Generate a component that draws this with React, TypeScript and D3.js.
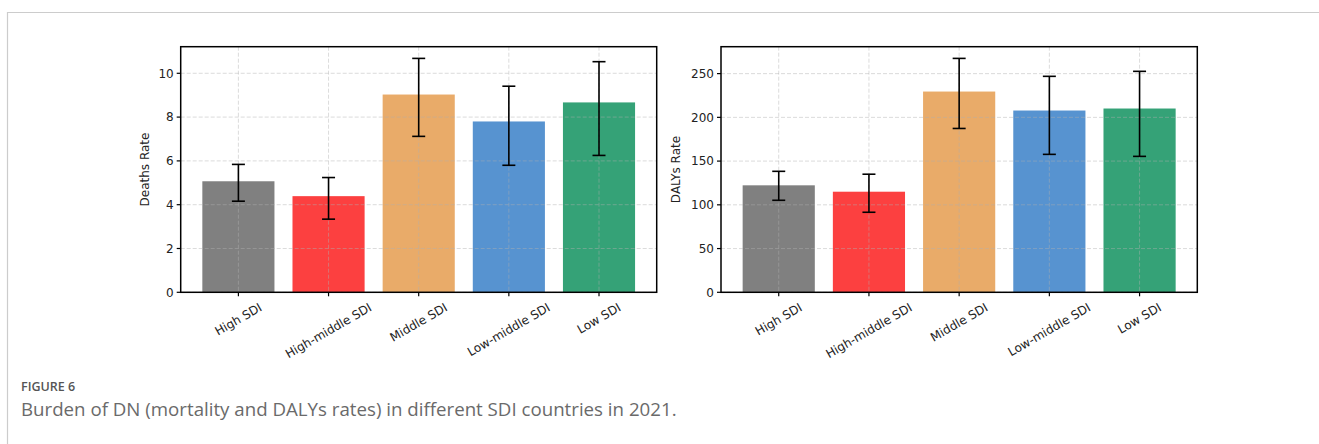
import React, { useEffect, useRef } from "react";
import * as d3 from "d3";

const categories = ["High SDI", "High-middle SDI", "Middle SDI", "Low-middle SDI", "Low SDI"];
const barColors = ["#808080", "#FC4040", "#E9AB69", "#5793D0", "#35A277"];

const deathsRate = [5.07, 4.39, 9.03, 7.8, 8.67];
const deathsLower = [4.16, 3.34, 7.12, 5.8, 6.25];
const deathsUpper = [5.84, 5.24, 10.68, 9.41, 10.53];
const deathsTicks = [0, 2, 4, 6, 8, 10];

const dalysRate = [122.3, 115, 229.5, 207.8, 210.1];
const dalysLower = [105.2, 91.5, 187.3, 157.7, 155.4];
const dalysUpper = [138.3, 135, 267.4, 246.9, 252.6];
const dalysTicks = [0, 50, 100, 150, 200, 250];

const captionLabel = "FIGURE 6";
const captionText = "Burden of DN (mortality and DALYs rates) in different SDI countries in 2021.";

const W = 1319;
const H = 444;
const FONT = "'DejaVu Sans', sans-serif";

type PanelSpec = {
  x0: number;
  x1: number;
  values: number[];
  lower: number[];
  upper: number[];
  ticks: number[];
  ylabel: string;
  ylabelX: number;
};

export default function App() {
  const ref = useRef<SVGSVGElement | null>(null);

  useEffect(() => {
    const svg = d3.select(ref.current);
    svg.selectAll("*").remove();

    // frame border
    svg.append("path")
      .attr("d", `M7.5,${H} L7.5,12.5 L${W},12.5`)
      .attr("fill", "none")
      .attr("stroke", "#cccccc")
      .attr("stroke-width", 1.2);

    const top = 46.7;
    const bottom = 292.3;

    const panels: PanelSpec[] = [
      { x0: 180.7, x1: 656.7, values: deathsRate, lower: deathsLower, upper: deathsUpper, ticks: deathsTicks, ylabel: "Deaths Rate", ylabelX: 145 },
      { x0: 721, x1: 1197.3, values: dalysRate, lower: dalysLower, upper: dalysUpper, ticks: dalysTicks, ylabel: "DALYs Rate", ylabelX: 676 },
    ];

    panels.forEach((p) => {
      const n = categories.length;
      const x = d3.scaleLinear().domain([-0.64, n - 1 + 0.64]).range([p.x0, p.x1]);
      const ymax = d3.max(p.upper)! * 1.05;
      const y = d3.scaleLinear().domain([0, ymax]).range([bottom, top]);
      const g = svg.append("g");
      const bw = x(0.8) - x(0);

      // bars
      g.selectAll("rect.bar")
        .data(p.values)
        .enter()
        .append("rect")
        .attr("x", (_d, i) => x(i) - bw / 2)
        .attr("width", bw)
        .attr("y", (d) => y(d))
        .attr("height", (d) => y(0) - y(d))
        .attr("fill", (_d, i) => barColors[i]);

      // grid (on top of bars)
      const grid = g.append("g")
        .attr("stroke", "#b0b0b0")
        .attr("stroke-opacity", 0.5)
        .attr("stroke-width", 0.9)
        .attr("stroke-dasharray", "4,2");
      p.ticks.forEach((t) => {
        grid.append("line").attr("x1", p.x0).attr("x2", p.x1).attr("y1", y(t)).attr("y2", y(t));
      });
      categories.forEach((_c, i) => {
        grid.append("line").attr("x1", x(i)).attr("x2", x(i)).attr("y1", top).attr("y2", bottom);
      });

      // error bars
      const eb = g.append("g").attr("stroke", "#000").attr("stroke-width", 1.6);
      p.values.forEach((_v, i) => {
        const cx = x(i);
        eb.append("line").attr("x1", cx).attr("x2", cx).attr("y1", y(p.lower[i])).attr("y2", y(p.upper[i]));
        eb.append("line").attr("x1", cx - 6.5).attr("x2", cx + 6.5).attr("y1", y(p.lower[i])).attr("y2", y(p.lower[i]));
        eb.append("line").attr("x1", cx - 6.5).attr("x2", cx + 6.5).attr("y1", y(p.upper[i])).attr("y2", y(p.upper[i]));
      });

      // spines
      g.append("rect")
        .attr("x", p.x0)
        .attr("y", top)
        .attr("width", p.x1 - p.x0)
        .attr("height", bottom - top)
        .attr("fill", "none")
        .attr("stroke", "#000")
        .attr("stroke-width", 1.5);

      // y ticks
      const yt = g.append("g");
      p.ticks.forEach((t) => {
        yt.append("line").attr("x1", p.x0 - 4).attr("x2", p.x0).attr("y1", y(t)).attr("y2", y(t)).attr("stroke", "#000").attr("stroke-width", 1.2);
        yt.append("text")
          .attr("x", p.x0 - 7)
          .attr("y", y(t))
          .attr("dy", "0.36em")
          .attr("text-anchor", "end")
          .attr("font-family", FONT)
          .attr("font-size", 12)
          .attr("fill", "#222")
          .text(String(t));
      });

      // x ticks + rotated labels
      categories.forEach((c, i) => {
        const cx = x(i);
        g.append("line").attr("x1", cx).attr("x2", cx).attr("y1", bottom).attr("y2", bottom + 4).attr("stroke", "#000").attr("stroke-width", 1.2);
        const t = g.append("text")
          .attr("text-anchor", "middle")
          .attr("dominant-baseline", "central")
          .attr("font-family", FONT)
          .attr("font-size", 12)
          .attr("fill", "#222")
          .text(c);
        const w = (t.node() as SVGTextElement).getComputedTextLength();
        const h = 12;
        const halfH = (w * 0.5 + h * 0.866) / 2;
        const cy = bottom + 9 + halfH;
        t.attr("transform", `translate(${cx},${cy}) rotate(-30)`);
      });

      // y label
      g.append("text")
        .attr("transform", `translate(${p.ylabelX},${(top + bottom) / 2}) rotate(-90)`)
        .attr("text-anchor", "middle")
        .attr("dominant-baseline", "central")
        .attr("font-family", FONT)
        .attr("font-size", 12)
        .attr("fill", "#222")
        .text(p.ylabel);
    });

    // caption
    svg.append("text")
      .attr("x", 21)
      .attr("y", 391)
      .attr("font-family", "'Open Sans', sans-serif")
      .attr("font-weight", 600)
      .attr("font-size", 12.5)
      .attr("fill", "#555")
      .text(captionLabel);
    svg.append("text")
      .attr("x", 21)
      .attr("y", 416)
      .attr("font-family", "'Open Sans', sans-serif")
      .attr("font-size", 18.7)
      .attr("fill", "#6a6a6a")
      .text(captionText);
  }, []);

  return (
    <svg
      ref={ref}
      width={W}
      height={H}
      style={{ position: "absolute", left: 0, top: 0, background: "#fff" }}
    />
  );
}
